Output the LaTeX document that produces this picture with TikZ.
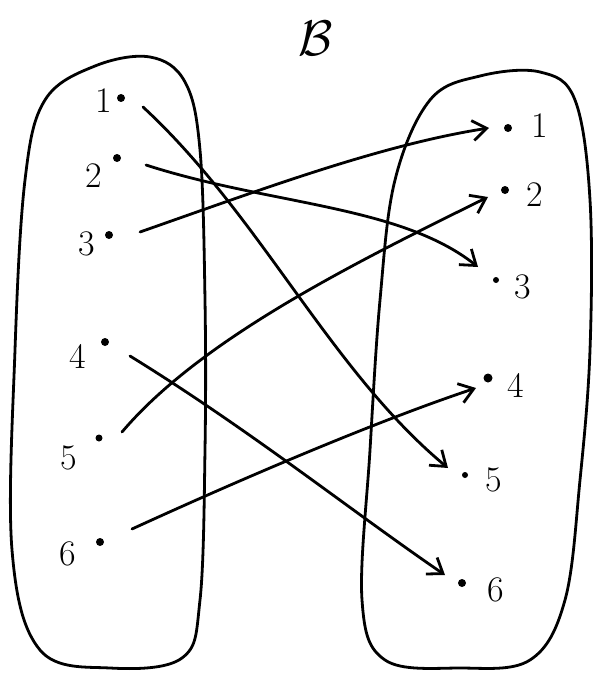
\documentclass[tikz,border=0pt]{standalone}
\usetikzlibrary{arrows.meta}
\begin{document}
\begin{tikzpicture}[x=1pt,y=-1pt,
  pen/.style={line width=2.8pt,line cap=round,line join=round},
  blob/.style={pen},
  conn/.style={pen,-{Straight Barb[length=14pt,width=20pt,line width=2.8pt]}},
  dotp/.style={circle,fill=black,inner sep=0pt,minimum size=8pt},
  lbl/.style={inner sep=0pt,font=\fontsize{36}{38}\selectfont}]
\useasboundingbox (0,0) rectangle (608,682);
% title
\node[inner sep=0pt,scale=5] (title) at (316,38) {$\mathcal{B}$};
% blobs
\draw[blob] plot[smooth cycle,tension=0.6] coordinates {(150,57) (185,82) (200,150) (205,300) (205,450) (200,600) (182,658) (110,668) (40,650) (12,550) (15,350) (25,180) (45,100) (95,66)};
\draw[blob] plot[smooth cycle,tension=0.6] coordinates {(540,72) (575,100) (590,200) (590,350) (580,480) (565,600) (530,660) (460,668) (385,660) (362,600) (370,450) (380,300) (395,180) (430,100) (480,76)};
% left points
\node[dotp] (l1) at (121,98) {};  \node[lbl] (t1) at (104,101) {1};
\node[dotp] (l2) at (117,158) {}; \node[lbl] (t2) at (94,176) {2};
\node[dotp] (l3) at (109,235) {}; \node[lbl] (t3) at (87,244) {3};
\node[dotp] (l4) at (105,342) {}; \node[lbl] (t4) at (78,356) {4};
\node[dotp,minimum size=7pt] (l5) at (99,438) {};  \node[lbl] (t5) at (69,458) {5};
\node[dotp] (l6) at (100,542) {}; \node[lbl] (t6) at (68,554) {6};
% right points
\node[dotp] (r1) at (508,128) {}; \node[lbl] (u1) at (540,126) {1};
\node[dotp] (r2) at (505,190) {}; \node[lbl] (u2) at (535,195) {2};
\node[dotp,minimum size=6pt] (r3) at (496,280) {}; \node[lbl] (u3) at (523,287) {3};
\node[dotp,minimum size=9pt] (r4) at (488,378) {}; \node[lbl] (u4) at (516,385) {4};
\node[dotp,minimum size=6pt] (r5) at (465,475) {}; \node[lbl] (u5) at (494,480) {5};
\node[dotp] (r6) at (462,583) {}; \node[lbl] (u6) at (496,590) {6};
% connector ends
\coordinate (a1) at (143,107); \coordinate (b5) at (448,468);
\coordinate (a2) at (146,165); \coordinate (b3) at (478,267);
\coordinate (a3) at (140,232); \coordinate (b1) at (489,128);
\coordinate (a4) at (130,356); \coordinate (b6) at (445,575);
\coordinate (a5) at (122,432); \coordinate (b2) at (488,197);
\coordinate (a6) at (132,529); \coordinate (b4) at (476,388);
% connectors
\draw[conn] (a1) .. controls (260,215) and (330,370) .. (b5);
\draw[conn] (a2) .. controls (270,205) and (400,205) .. (b3);
\draw[conn] (a3) .. controls (260,190) and (380,145) .. (b1);
\draw[conn] (a4) .. controls (250,430) and (350,510) .. (b6);
\draw[conn] (a5) .. controls (200,340) and (350,265) .. (b2);
\draw[conn] (a6) .. controls (250,475) and (380,420) .. (b4);
\end{tikzpicture}
\end{document}
